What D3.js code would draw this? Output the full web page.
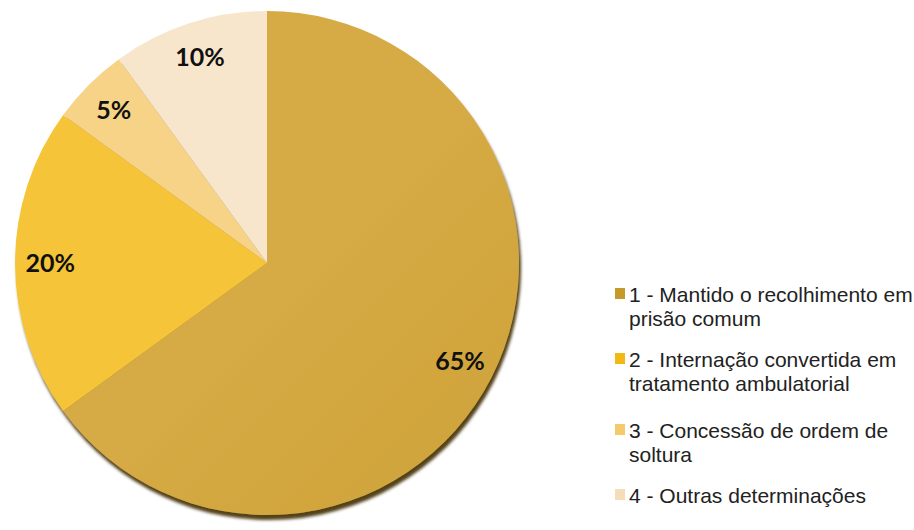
<!DOCTYPE html>
<html>
<head>
<meta charset="utf-8">
<script src="https://cdn.jsdelivr.net/npm/d3@7"></script>
<style>
  body { margin: 0; background: #fff; }
  svg { display: block; }
</style>
</head>
<body>
<svg id="pie" width="914" height="530"></svg>
<script>
var categories = ["1 - Mantido o recolhimento em|prisão comum",
                  "2 - Internação convertida em|tratamento ambulatorial",
                  "3 - Concessão de ordem de|soltura",
                  "4 - Outras determinações"];
var values = [65, 20, 5, 10];
var labels = ["65%", "20%", "5%", "10%"];
var colors = ["#C69A28", "#F2B915", "#F5CA6C", "#F5DDB9"];
var lightColors = ["#D6AA45", "#F5C437", "#F7D387", "#F8E6CC"];

var svg = d3.select("#pie"),
    cx = 267,
    cy = 263,
    radius = 252;

var defs = svg.append("defs");
var shadow = defs.append("filter").attr("id", "shadow")
    .attr("x", "-10%").attr("y", "-10%").attr("width", "120%").attr("height", "120%");
shadow.append("feDropShadow")
    .attr("dx", 2).attr("dy", 5).attr("stdDeviation", 1.5)
    .attr("flood-color", "#3f2e06").attr("flood-opacity", 0.9);

colors.forEach(function (c, i) {
    var g = defs.append("linearGradient").attr("id", "grad" + i)
        .attr("gradientUnits", "userSpaceOnUse")
        .attr("x1", cx - radius).attr("y1", cy - radius)
        .attr("x2", cx + radius).attr("y2", cy + radius);
    g.append("stop").attr("offset", "0%").attr("stop-color", lightColors[i]);
    g.append("stop").attr("offset", "100%").attr("stop-color", c);
});

var pie = d3.pie().sort(null).value(function (d) { return d; });
var arc = d3.arc().innerRadius(0).outerRadius(radius);
var labelArc = d3.arc().innerRadius(radius * 0.86).outerRadius(radius * 0.86);

var g = svg.append("g")
    .attr("transform", "translate(" + cx + "," + cy + ")");

var slices = g.append("g").attr("filter", "url(#shadow)");
slices.selectAll("path")
    .data(pie(values))
    .enter().append("path")
    .attr("d", arc)
    .attr("fill", function (d, i) { return "url(#grad" + i + ")"; });

g.selectAll("text.lbl")
    .data(pie(values))
    .enter().append("text")
    .attr("class", "lbl")
    .attr("transform", function (d) {
        var p = labelArc.centroid(d);
        return "translate(" + p[0] + "," + p[1] + ")";
    })
    .attr("text-anchor", "middle")
    .attr("dy", "0.36em")
    .style("font-family", "Lato, 'Open Sans', sans-serif")
    .style("font-weight", "bold")
    .style("font-size", "25px")
    .style("fill", "#111")
    .text(function (d, i) { return labels[i]; });

// legend
var legendBase = [302, 367, 438, 503];
var legend = svg.append("g");
var item = legend.selectAll("g")
    .data(categories)
    .enter().append("g")
    .attr("transform", function (d, i) {
        return "translate(615," + legendBase[i] + ")";
    });
item.append("rect")
    .attr("x", 0).attr("y", -14)
    .attr("width", 10).attr("height", 11)
    .attr("fill", function (d, i) { return colors[i]; });
item.append("text")
    .style("font-family", "'Liberation Sans', Arial, sans-serif")
    .style("font-size", "21px")
    .style("fill", "#222")
    .selectAll("tspan")
    .data(function (d) { return d.split("|"); })
    .enter().append("tspan")
    .attr("x", 14)
    .attr("y", function (d, j) { return j * 24; })
    .text(function (d) { return d; });
</script>
</body>
</html>
